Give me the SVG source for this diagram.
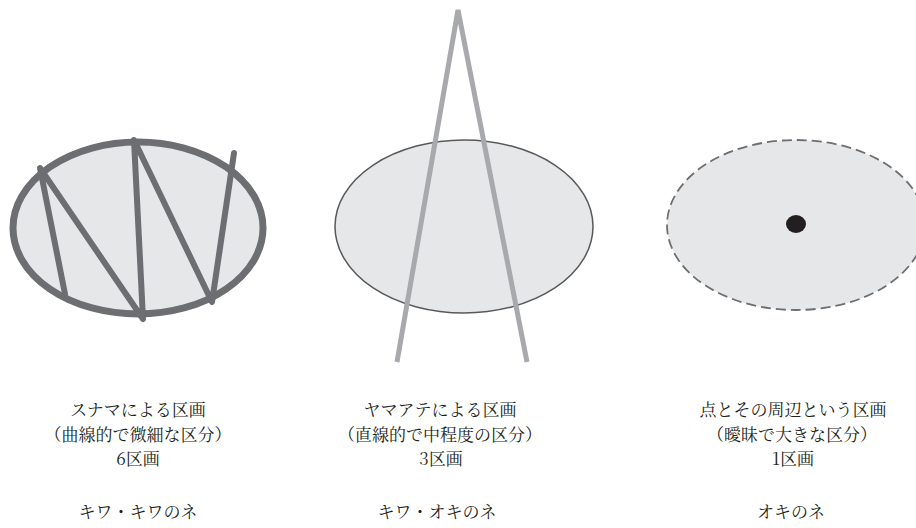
<svg xmlns="http://www.w3.org/2000/svg" width="916" height="528" viewBox="0 0 916 528">
<style>
.t{font-family:"Noto Serif CJK JP","Noto Sans CJK JP",serif;font-size:17px;fill:#231f20;text-anchor:middle}
.area{fill:#e6e7e8}
</style>
<rect width="916" height="528" fill="#fff"/>
<g id="sunama">
<ellipse class="area" cx="138" cy="228" rx="125" ry="86" stroke="#6d6e71" stroke-width="7"/>
<polyline points="65,294 40,168 143,319 134,140 212,302 234,153" fill="none" stroke="#6d6e71" stroke-width="6" stroke-linecap="round" stroke-linejoin="round"/>
<text class="t" x="138" y="416">スナマによる区画</text>
<text class="t" x="138" y="441">（曲線的で微細な区分）</text>
<text class="t" x="138" y="465">6区画</text>
<text class="t" x="138" y="518">キワ・キワのネ</text>
</g>
<g id="yamaate">
<ellipse class="area" cx="464" cy="226.5" rx="129" ry="86.5" stroke="#58595b" stroke-width="1.5"/>
<polyline points="397,362 458,10 527,362" fill="none" stroke="#a7a9ac" stroke-width="5"/>
<text class="t" x="440" y="416">ヤマアテによる区画</text>
<text class="t" x="440" y="441">（直線的で中程度の区分）</text>
<text class="t" x="441" y="465">3区画</text>
<text class="t" x="437" y="518">キワ・オキのネ</text>
</g>
<g id="oki">
<ellipse class="area" cx="796" cy="225" rx="129" ry="85" stroke="#6d6e71" stroke-width="1.8" stroke-dasharray="10,5"/>
<ellipse cx="796" cy="224" rx="10" ry="9" fill="#231f20"/>
<text class="t" x="793" y="416">点とその周辺という区画</text>
<text class="t" x="792" y="441">（曖昧で大きな区分）</text>
<text class="t" x="793" y="465">1区画</text>
<text class="t" x="791" y="518">オキのネ</text>
</g>
<g id="connectors"/>
</svg>
